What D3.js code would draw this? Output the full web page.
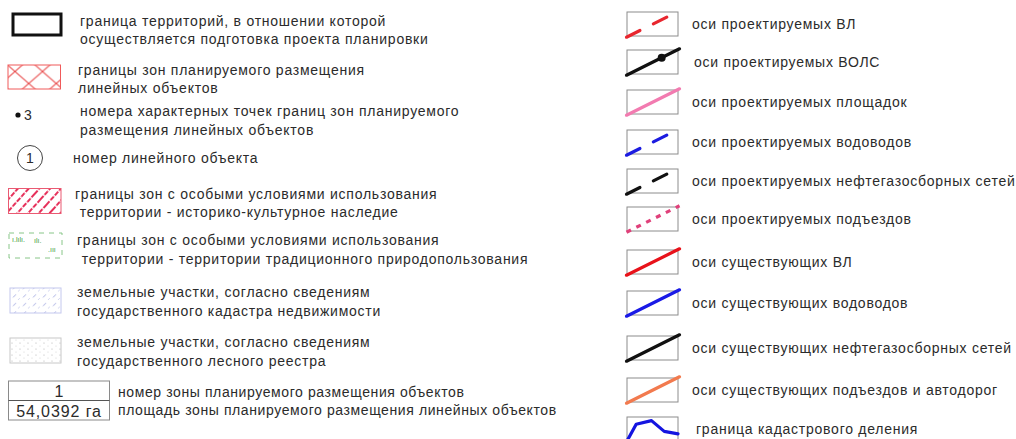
<!DOCTYPE html>
<html>
<head>
<meta charset="utf-8">
<script src="https://cdn.jsdelivr.net/npm/d3@7"></script>
<style>
body { margin: 0; background: #fff; }
text { font-family: "Liberation Sans", Arial, sans-serif; fill: #2b2b2b; }
</style>
</head>
<body>
<div id="legend"></div>
<script>
// left column: labels (one or two lines) and symbol kinds
var leftLabels = [
  ["граница территорий, в отношении которой", "осуществляется подготовка проекта планировки"],
  ["границы зон планируемого размещения", "линейных объектов"],
  ["номера характерных точек границ зон планируемого", "размещения линейных объектов"],
  ["номер линейного объекта"],
  ["границы зон с особыми условиями использования", " территории - историко-культурное наследие"],
  ["границы зон с особыми условиями использования", " территории - территории традиционного природопользования"],
  ["земельные участки, согласно сведениям", "государственного кадастра недвижимости"],
  ["земельные участки, согласно сведениям", "государственного лесного реестра"],
  ["номер зоны планируемого размещения объектов", "площадь зоны планируемого размещения линейных объектов"]
];
var leftSymbols = ["frame", "cross", "point", "circle", "heritage", "traditional", "cadastre", "forest", "zone"];
var pointNumber = "3";
var objectNumber = "1";
var zoneNumber = "1";
var zoneArea = "54,0392 га";

// right column: line symbols
var rightLabels = [
  "оси проектируемых ВЛ",
  "оси проектируемых ВОЛС",
  "оси проектируемых площадок",
  "оси проектируемых водоводов",
  "оси проектируемых нефтегазосборных сетей",
  "оси проектируемых подъездов",
  "оси существующих ВЛ",
  "оси существующих водоводов",
  "оси существующих нефтегазосборных сетей",
  "оси существующих подъездов и автодорог",
  "граница кадастрового деления"
];
var rightKinds = ["dash", "fiber", "solid", "dash", "dash", "dot", "solid", "solid", "solid", "solid", "cadastral"];
var cadastralLine = [[0, 0], [0.18, 0.7], [0.48, 0.85], [0.73, 0.4], [1, 0.3]];

var W = 1016, H = 439;
var svg = d3.select("#legend").append("svg").attr("width", W).attr("height", H);
var defs = svg.append("defs");

var color = d3.scaleOrdinal()
  .domain(rightLabels)
  .range(["#e8262e", "#111111", "#f27bb0", "#1c1ce0", "#111111", "#e0407a",
          "#e8121a", "#1a1ae6", "#111111", "#f27a4e", "#1414e0"]);

var leftY = d3.scaleLinear()
  .domain(d3.range(leftLabels.length))
  .range([29.5, 78.5, 120, 158, 202.5, 249, 301, 351, 400.5]);
var rightY = d3.scaleLinear()
  .domain(d3.range(rightLabels.length))
  .range([24, 62, 102, 142, 181, 219, 262, 303, 348, 390, 429]);
var textX = [80, 78, 80, 73, 75, 77, 77, 77, 118];

// patterns
var p = defs.append("pattern").attr("id", "cross").attr("patternUnits", "userSpaceOnUse")
  .attr("x", 15).attr("y", 65).attr("width", 27.5).attr("height", 24);
p.append("path").attr("d", "M0,0L27.5,24M27.5,0L0,24").attr("stroke", "#e84a4a").attr("stroke-width", 1).attr("fill", "none");

p = defs.append("pattern").attr("id", "heritage").attr("patternUnits", "userSpaceOnUse")
  .attr("width", 8).attr("height", 30).attr("patternTransform", "rotate(42)");
p.append("line").attr("x1", 4).attr("x2", 4).attr("y1", 0).attr("y2", 30)
  .attr("stroke", "#e6305a").attr("stroke-width", 2).attr("stroke-dasharray", "5,1.5");

p = defs.append("pattern").attr("id", "cadastre").attr("patternUnits", "userSpaceOnUse")
  .attr("x", 10).attr("y", 288).attr("width", 10).attr("height", 8.5);
p.append("path").attr("d", "M3,6L6,3").attr("stroke", "#a0a6e0").attr("stroke-width", 0.9);
p.append("path").attr("d", "M8,8.5L10,6.5").attr("stroke", "#c0c4ea").attr("stroke-width", 0.7);

p = defs.append("pattern").attr("id", "forest").attr("patternUnits", "userSpaceOnUse")
  .attr("x", 10).attr("y", 338).attr("width", 8).attr("height", 6);
p.append("circle").attr("cx", 2).attr("cy", 2).attr("r", 0.6).attr("fill", "#b0b0b0");
p.append("circle").attr("cx", 6).attr("cy", 5).attr("r", 0.5).attr("fill", "#c8c8c8");

// left symbols
var left = svg.append("g").selectAll("g").data(leftSymbols).enter().append("g")
  .attr("transform", function(d, i) { return "translate(0," + leftY(i) + ")"; });

left.each(function(kind, i) {
  var g = d3.select(this);
  if (kind == "frame") {
    g.append("rect").attr("x", 13).attr("y", -15.5).attr("width", 48).attr("height", 21)
      .attr("fill", "none").attr("stroke", "#111").attr("stroke-width", 3);
  } else if (kind == "cross") {
    g.append("rect").attr("x", 8).attr("y", -13.5).attr("width", 52.5).attr("height", 24)
      .attr("fill", "url(#cross)").attr("stroke", "#f05a5a").attr("stroke-width", 1);
  } else if (kind == "point") {
    g.append("circle").attr("cx", 18).attr("cy", -5).attr("r", 2.6).attr("fill", "#111");
    g.append("text").attr("x", 24).attr("y", -0.5).attr("font-size", 14).text(pointNumber);
  } else if (kind == "circle") {
    g.append("circle").attr("cx", 30).attr("cy", 0).attr("r", 12.5)
      .attr("fill", "#fff").attr("stroke", "#444").attr("stroke-width", 1);
    g.append("text").attr("x", 30).attr("y", 5).attr("text-anchor", "middle").attr("font-size", 14).text(objectNumber);
  } else if (kind == "heritage") {
    g.append("rect").attr("x", 8.5).attr("y", -14).attr("width", 52.5).attr("height", 25)
      .attr("fill", "url(#heritage)").attr("stroke", "#ea5a72").attr("stroke-width", 1);
  } else if (kind == "traditional") {
    g.append("rect").attr("x", 9).attr("y", -16).attr("width", 53).attr("height", 25)
      .attr("fill", "none").attr("stroke", "#7cc07c").attr("stroke-width", 0.9).attr("stroke-dasharray", "5,5");
    var marks = [[12, -7, "ı.lılı."], [34, -6, "ılı."], [48, 3, ".ııı"]];
    g.selectAll("text.m").data(marks).enter().append("text").attr("class", "m")
      .attr("x", function(d) { return d[0]; }).attr("y", function(d) { return d[1]; })
      .attr("font-size", 7).style("fill", "#3c9c3c").text(function(d) { return d[2]; });
  } else if (kind == "cadastre") {
    g.append("rect").attr("x", 10).attr("y", -13).attr("width", 51).attr("height", 25)
      .attr("fill", "url(#cadastre)").attr("stroke", "#c4c8ee").attr("stroke-width", 1);
  } else if (kind == "forest") {
    g.append("rect").attr("x", 10).attr("y", -13).attr("width", 51).attr("height", 25)
      .attr("fill", "url(#forest)").attr("stroke", "#c8c8c8").attr("stroke-width", 1);
  } else if (kind == "zone") {
    g.append("rect").attr("x", 8.5).attr("y", -19.5).attr("width", 101).attr("height", 39)
      .attr("fill", "none").attr("stroke", "#8a8a8a").attr("stroke-width", 1);
    g.append("line").attr("x1", 8.5).attr("x2", 109.5).attr("y1", 0).attr("y2", 0)
      .attr("stroke", "#555").attr("stroke-width", 1);
    g.append("text").attr("x", 59).attr("y", -4).attr("text-anchor", "middle").attr("font-size", 16).text(zoneNumber);
    g.append("text").attr("x", 59).attr("y", 16).attr("text-anchor", "middle").attr("font-size", 16)
      .attr("letter-spacing", 0.9).text(zoneArea);
  }

  var lines = leftLabels[i];
  g.selectAll("text.lab").data(lines).enter().append("text").attr("class", "lab")
    .attr("x", textX[i])
    .attr("y", function(d, j) { return (lines.length == 1 ? 5 : -4 + j * 18.5); })
    .attr("font-size", 14)
    .attr("letter-spacing", i == 8 ? 0.6 : 0.75)
    .style("white-space", "pre")
    .text(function(d) { return d; });
});

// right symbols
var bx = d3.scaleLinear().domain([0, 1]).range([627, 678]);
var right = svg.append("g").selectAll("g").data(rightLabels).enter().append("g")
  .attr("transform", function(d, i) { return "translate(0," + rightY(i) + ")"; });

right.each(function(label, i) {
  var g = d3.select(this);
  var kind = rightKinds[i];
  var by = d3.scaleLinear().domain([0, 1]).range([12, -12]);
  g.append("rect").attr("x", bx(0)).attr("y", by(1)).attr("width", bx(1) - bx(0)).attr("height", by(0) - by(1))
    .attr("fill", "#fff").attr("stroke", "#8c8c8c").attr("stroke-width", 1);
  var ln = d3.line().x(function(d) { return bx(d[0]); }).y(function(d) { return by(d[1]); });
  var pts = kind == "cadastral" ? cadastralLine : [[-0.01, -0.05], [1.03, 1.05]];
  var path = g.append("path").attr("d", ln(pts)).attr("fill", "none")
    .attr("stroke", color(label)).attr("stroke-width", 3.2)
    .attr("stroke-linecap", "round").attr("stroke-linejoin", "round");
  if (kind == "dash") path.attr("stroke-dasharray", "15,15");
  if (kind == "dot") path.attr("stroke-dasharray", "5,6").attr("stroke-linecap", "butt");
  if (kind == "fiber") {
    g.append("circle").attr("cx", bx(0.68)).attr("cy", by(0.68)).attr("r", 4).attr("fill", color(label));
  }
  g.append("text").attr("x", i == 1 ? 694 : i == 10 ? 696 : 692).attr("y", 5).attr("font-size", 14)
    .attr("letter-spacing", 0.75).text(label);
});
</script>
</body>
</html>
